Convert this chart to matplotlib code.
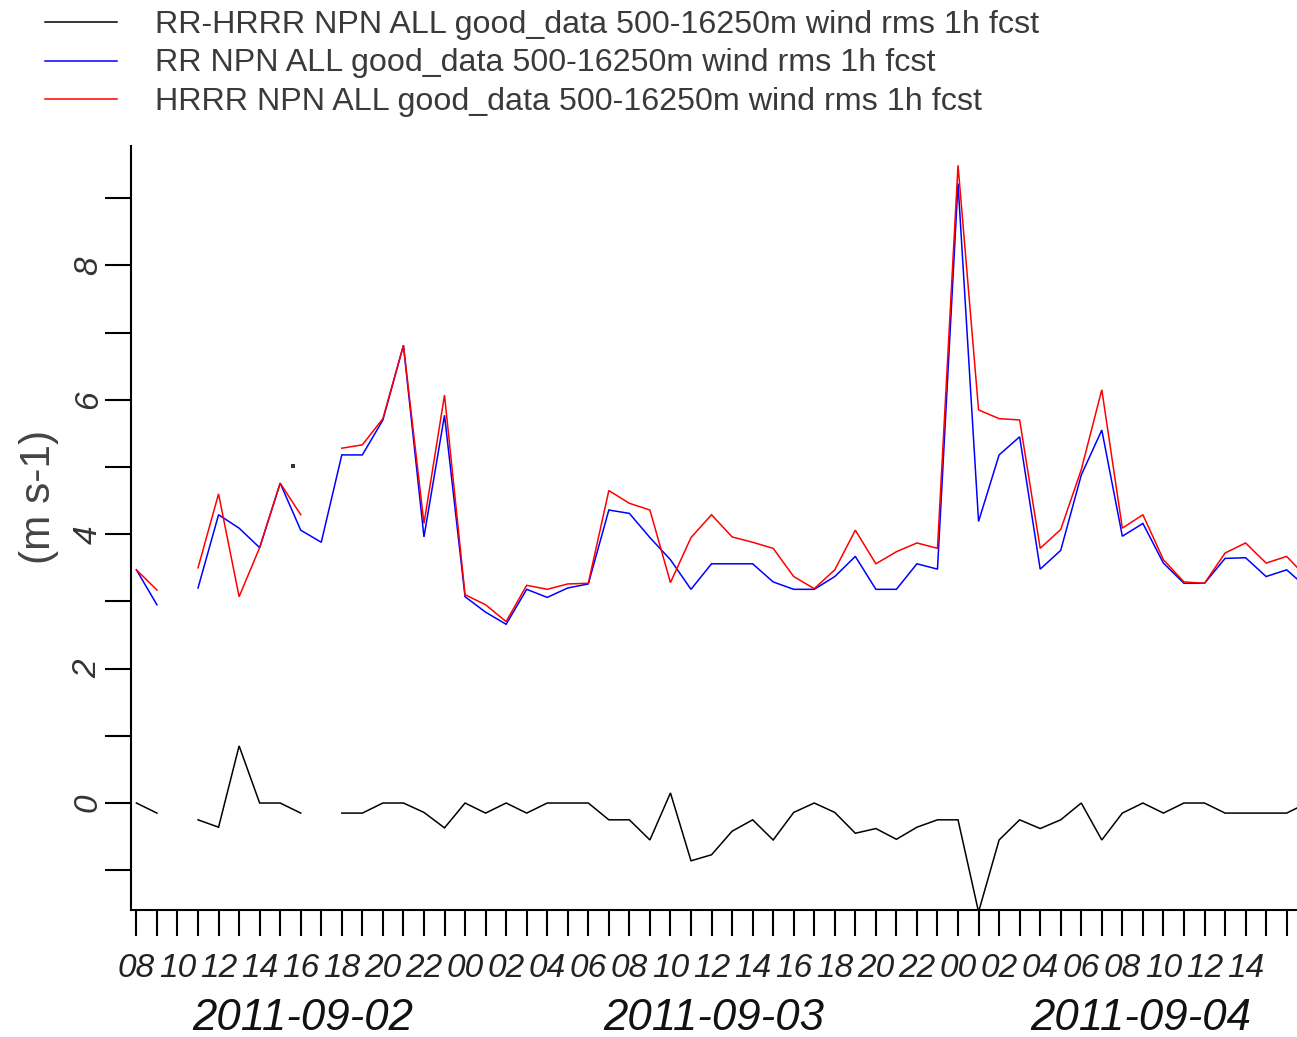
import numpy as np
import matplotlib
matplotlib.use("Agg")
import matplotlib.pyplot as plt
from matplotlib.lines import Line2D
from matplotlib import transforms

plt.rcParams['font.family'] = ['Liberation Sans', 'DejaVu Sans']

# ---------------- data (hourly, starting 2011-09-02 08:00) ----------------
nan = np.nan
hours = np.arange(58)  # 0 = 2011-09-02 08:00

rr = [3.47, 2.95, nan, 3.20, 4.29, 4.09, 3.80, 4.76, 4.06, 3.88,
      5.18, 5.18, 5.70, 6.81, 3.96, 5.77, 3.07, 2.84, 2.66, 3.18,
      3.06, 3.20, 3.26, 4.36, 4.31, 3.95, 3.62, 3.18, 3.56, 3.56,
      3.56, 3.29, 3.18, 3.18, 3.37, 3.67, 3.18, 3.18, 3.56, 3.48,
      9.22, 4.19, 5.18, 5.45, 3.48, 3.76, 4.88, 5.55, 3.97, 4.16,
      3.57, 3.27, 3.27, 3.64, 3.65, 3.37, 3.47, 3.20]

hrrr = [3.47, 3.17, nan, 3.50, 4.60, 3.07, 3.80, 4.76, 4.29, nan,
        5.28, 5.33, 5.72, 6.81, 4.16, 6.07, 3.10, 2.95, 2.70, 3.24,
        3.18, 3.26, 3.27, 4.65, 4.46, 4.36, 3.28, 3.95, 4.29, 3.96,
        3.88, 3.79, 3.37, 3.19, 3.47, 4.06, 3.56, 3.74, 3.87, 3.79,
        9.49, 5.85, 5.72, 5.70, 3.79, 4.07, 4.96, 6.15, 4.09, 4.29,
        3.62, 3.29, 3.27, 3.72, 3.87, 3.57, 3.67, 3.35]

diff = [0.00, -0.15, nan, -0.25, -0.36, 0.85, 0.00, 0.00, -0.15, nan,
        -0.15, -0.15, 0.00, 0.00, -0.14, -0.37, 0.00, -0.15, 0.00, -0.15,
        0.00, 0.00, 0.00, -0.25, -0.25, -0.55, 0.15, -0.86, -0.77, -0.42,
        -0.25, -0.55, -0.14, 0.00, -0.14, -0.45, -0.38, -0.54, -0.36, -0.25,
        -0.25, -1.62, -0.55, -0.25, -0.38, -0.25, 0.00, -0.55, -0.15, 0.00,
        -0.15, 0.00, 0.00, -0.15, -0.15, -0.15, -0.15, 0.00]

dot_hour = [7.62]
dot_val = [5.02]

labels = ["RR-HRRR NPN ALL good_data 500-16250m wind rms 1h fcst",
          "RR NPN ALL good_data 500-16250m wind rms 1h fcst",
          "HRRR NPN ALL good_data 500-16250m wind rms 1h fcst"]
colors = ["black", "blue", "red"]

hour_labels = ["08", "10", "12", "14", "16", "18", "20", "22",
               "00", "02", "04", "06", "08", "10", "12", "14", "16", "18", "20", "22",
               "00", "02", "04", "06", "08", "10", "12", "14"]
day_labels = ["2011-09-02", "2011-09-03", "2011-09-04"]
day_centers = [8.1, 28.1, 48.9]
day_starts = [16, 40]

y_ticks = list(range(-1, 10))
y_ticklabels = ["" if (v % 2 or v < 0) else str(v) for v in y_ticks]

# ---------------- figure ----------------
W, H = 1297, 1037
fig = plt.figure(figsize=(W / 100, H / 100), dpi=100)
ax = fig.add_axes([131 / W, (H - 910) / H, (1322 - 131) / W, (910 - 146) / H])

series = [diff, rr, hrrr]
for vals, col in zip(series, colors):
    ax.plot(hours, vals, color=col, lw=1.1, solid_joinstyle='miter')
ax.plot(dot_hour, dot_val, 's', color='#333333', ms=2.6, mew=0)

ax.set_xlim(-0.263, 57.72)
ax.set_ylim(-1.592, 9.777)

for s in ['top', 'right']:
    ax.spines[s].set_visible(False)
for s in ['left', 'bottom']:
    ax.spines[s].set_linewidth(1.5)

# y axis
ax.set_yticks(y_ticks)
ax.set_yticklabels(y_ticklabels)
ax.tick_params(axis='y', length=18.7, width=1.5, pad=1, labelsize=24,
               labelrotation=90, labelcolor='#333333')
for t in ax.get_yticklabels():
    t.set_fontstyle('italic')
    t.set_verticalalignment('center')

# x axis: hourly ticks, labels every 2 hours
ax.set_xticks(hours)
xl = []
for h in hours:
    if h % 2 == 0 and h // 2 < len(hour_labels):
        xl.append(hour_labels[h // 2])
    else:
        xl.append("")
ax.set_xticklabels(xl)
ax.tick_params(axis='x', which='major', length=18.7, width=1.5, pad=12,
               labelsize=24, labelcolor='#222222')
for t in ax.get_xticklabels():
    t.set_fontstyle('italic')
ax.set_xticks(day_starts, minor=True)
ax.tick_params(axis='x', which='minor', length=23.5, width=3.2)

# day labels
trans = transforms.blended_transform_factory(ax.transData, fig.transFigure)
for c, lab in zip(day_centers, day_labels):
    ax.text(c, 1 - 1019 / H, lab, transform=trans, ha='center', va='center',
            fontsize=31.5, fontstyle='italic', color='#111111', clip_on=False)

# y label
fig.text(39 / W, 1 - 497 / H, "(m s-1)", rotation=90, ha='center', va='center',
         fontsize=30.5, color='#444444')

# legend
for i, (lab, col) in enumerate(zip(labels, colors)):
    y = 1 - (22 + 38.5 * i) / H
    fig.add_artist(Line2D([45 / W, 117 / W], [y, y], color=col, lw=1.1,
                          transform=fig.transFigure))
    fig.text(155 / W, y - 3 / H, lab, ha='left', va='center', fontsize=23.2,
             color='#3a3a3a')

fig.savefig("out.png", dpi=100)
